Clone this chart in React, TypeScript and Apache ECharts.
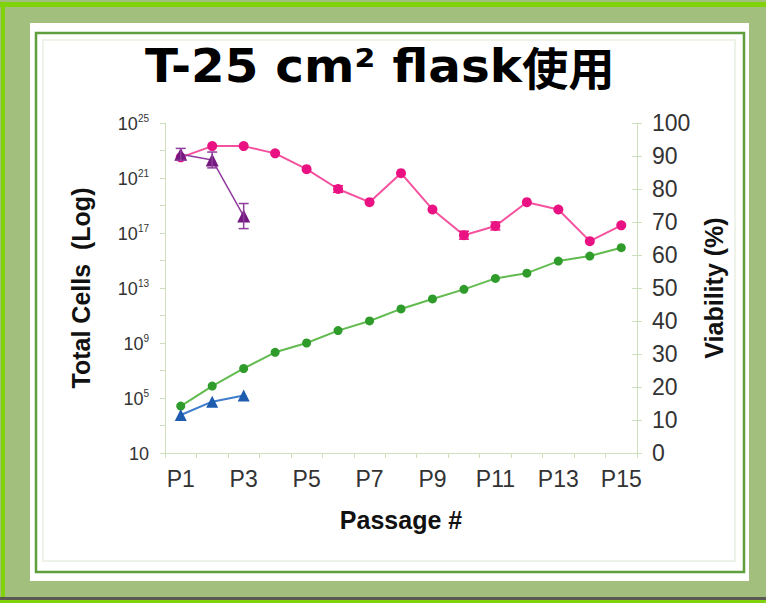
import React, { useEffect, useRef } from "react";
import * as echarts from "echarts";

// ---- data ----
const passages = ["P1","P2","P3","P4","P5","P6","P7","P8","P9","P10","P11","P12","P13","P14","P15"];
// total cells (log scale), green series
const totalCellsGreen = [2.6e4, 7.4e5, 1.4e7, 2.1e8, 1.0e9, 8.0e9, 4.0e10, 3.0e11, 1.6e12, 8.0e12, 5.0e13, 1.2e14, 9.1e14, 2.1e15, 8.5e15];
// total cells (log scale), blue series
const totalCellsBlue = [5.8e3, 5.4e4, 1.5e5];
// viability (%), pink series
const viabilityPink = [89.6, 93.0, 93.0, 90.8, 86.0, 80.0, 76.0, 84.8, 73.8, 66.0, 68.8, 76.0, 73.8, 64.2, 69.0];
const viabilityPinkErr = [0, 0, 0, 0, 0, 1.0, 0, 0, 0, 1.2, 1.2, 0, 0, 0, 0];
// viability (%), purple series
const viabilityPurple = [90.5, 88.8, 71.8];
const viabilityPurpleErr = [1.8, 2.4, 3.8];
// left axis tick label exponents (10^n)
const leftLabelExponents = [1, 5, 9, 13, 17, 21, 25];
const rightTickLabels = [0, 10, 20, 30, 40, 50, 60, 70, 80, 90, 100];

const titleLatin = "T-25 cm² flask";
const titleCJK = "使用";

const NARROW = '"Liberation Sans Narrow", "Liberation Sans", Arial, sans-serif';
const SANS = '"Liberation Sans", Arial, sans-serif';
const AXIS_COLOR = "#cddfbd";

// axis value for the log axis: exponent relative to 10^1
const toLogAxis = (v: number) => Math.log10(v) - 1;

function errorBarSeries(values: number[], errs: number[], color: string, yAxisIndex: number, z: number) {
  const data: number[][] = [];
  values.forEach((v, i) => {
    if (errs[i] > 0) data.push([i, v - errs[i], v + errs[i]]);
  });
  return {
    type: "custom",
    xAxisIndex: 0,
    yAxisIndex,
    silent: true,
    z,
    encode: { x: 0, y: [1, 2] },
    data,
    renderItem: (_params: any, api: any) => {
      const lo = api.coord([api.value(0), api.value(1)]);
      const hi = api.coord([api.value(0), api.value(2)]);
      const hw = 5;
      const st = { stroke: color, lineWidth: 1.5 };
      return {
        type: "group",
        children: [
          { type: "line", shape: { x1: lo[0], y1: lo[1], x2: hi[0], y2: hi[1] }, style: st },
          { type: "line", shape: { x1: lo[0] - hw, y1: lo[1], x2: lo[0] + hw, y2: lo[1] }, style: st },
          { type: "line", shape: { x1: hi[0] - hw, y1: hi[1], x2: hi[0] + hw, y2: hi[1] }, style: st },
        ],
      };
    },
  };
}

export default function App() {
  const ref = useRef<HTMLDivElement>(null);
  useEffect(() => {
    document.body.style.margin = "0";
    const chart = echarts.init(ref.current!, undefined, { renderer: "svg" });
    const option: any = {
      animation: false,
      backgroundColor: "#a2bf7d",
      graphic: [
        // outer bright green edges
        { type: "rect", z: -10, shape: { x: 0, y: 2, width: 766, height: 5 }, style: { fill: "#80d20a" } },
        { type: "rect", z: -10, shape: { x: 1, y: 2, width: 4, height: 601 }, style: { fill: "#80d20a" } },
        { type: "rect", z: -10, shape: { x: 0, y: 597, width: 766, height: 3 }, style: { fill: "#5a5a52" } },
        { type: "rect", z: -10, shape: { x: 0, y: 600, width: 766, height: 3 }, style: { fill: "#80d20a" } },
        // white panel
        { type: "rect", z: -9, shape: { x: 30, y: 23, width: 719, height: 558 }, style: { fill: "#ffffff" } },
        { type: "rect", z: -8, shape: { x: 36, y: 33, width: 708, height: 539 }, style: { fill: "none", stroke: "#5f9e3d", lineWidth: 2.5 } },
        { type: "rect", z: -8, shape: { x: 43, y: 40, width: 692, height: 521 }, style: { fill: "none", stroke: "#eef3ea", lineWidth: 2 } },
        // title
        {
          type: "text",
          z: 10,
          x: 145,
          y: 66,
          scaleX: 1.03,
          style: {
            text: `{a|${titleLatin}}{b|${titleCJK}}`,
            fill: "#000",
            align: "left",
            verticalAlign: "middle",
            rich: {
              a: { fontFamily: '"DejaVu Sans", sans-serif', fontWeight: "bold", fontSize: 47, fill: "#000", verticalAlign: "middle" },
              b: { fontFamily: '"Noto Sans CJK JP", sans-serif', fontWeight: "bold", fontSize: 45, fill: "#000", verticalAlign: "middle" },
            },
          },
        },
      ],
      grid: { left: 165, right: 129, top: 123, bottom: 150, containLabel: false },
      xAxis: {
        type: "category",
        data: passages,
        boundaryGap: true,
        name: "Passage #",
        nameLocation: "middle",
        nameGap: 54,
        nameTextStyle: { fontFamily: NARROW, fontWeight: "bold", fontSize: 25, color: "#111" },
        axisLine: { lineStyle: { color: AXIS_COLOR, width: 1 } },
        axisTick: { show: true, interval: 0, length: 5, lineStyle: { color: AXIS_COLOR } },
        axisLabel: { interval: 1, margin: 14, fontFamily: NARROW, fontSize: 23, color: "#333" },
        splitLine: { show: false },
      },
      yAxis: [
        {
          type: "value",
          position: "left",
          min: 0,
          max: 24,
          interval: 2,
          name: "Total Cells  (Log)",
          nameLocation: "middle",
          nameRotate: 90,
          nameGap: 72,
          nameTextStyle: { fontFamily: SANS, fontWeight: "bold", fontSize: 25, color: "#111" },
          axisLine: { show: true, lineStyle: { color: AXIS_COLOR, width: 1 } },
          axisTick: { show: true, length: 5, lineStyle: { color: AXIS_COLOR } },
          splitLine: { show: false },
          axisLabel: {
            margin: 16,
            formatter: (v: number) => {
              const e = Math.round(v) + 1;
              if (!leftLabelExponents.includes(e)) return "";
              return e === 1 ? "{b|10}" : `{b|10}{s|${e}}`;
            },
            rich: {
              b: { fontFamily: NARROW, fontSize: 18, color: "#333", verticalAlign: "bottom", lineHeight: 20 },
              s: { fontFamily: NARROW, fontSize: 10, color: "#333", verticalAlign: "top", lineHeight: 12 },
            },
          },
        },
        {
          type: "value",
          position: "right",
          min: 0,
          max: 100,
          interval: 10,
          name: "Viability (%)",
          nameLocation: "middle",
          nameRotate: 90,
          nameGap: 55,
          nameTextStyle: { fontFamily: SANS, fontWeight: "bold", fontSize: 25, color: "#111" },
          axisLine: { show: true, lineStyle: { color: AXIS_COLOR, width: 1 } },
          axisTick: { show: true, length: 5, lineStyle: { color: AXIS_COLOR } },
          splitLine: { show: false },
          axisLabel: {
            margin: 15,
            fontFamily: NARROW,
            fontSize: 23,
            color: "#333",
            formatter: (v: number) => (rightTickLabels.includes(Math.round(v)) ? String(Math.round(v)) : ""),
          },
        },
        {
          type: "value",
          position: "right",
          min: 0,
          max: 100,
          interval: 10,
          axisLine: { show: false },
          axisTick: { show: true, inside: true, length: 5, lineStyle: { color: AXIS_COLOR } },
          axisLabel: { show: false },
          splitLine: { show: false },
        },
      ],
      series: [
        {
          name: "Viability",
          type: "line",
          yAxisIndex: 1,
          data: viabilityPink,
          symbol: "circle",
          symbolSize: 10,
          z: 3,
          lineStyle: { color: "#f4529e", width: 2 },
          itemStyle: { color: "#ea1282" },
        },
        errorBarSeries(viabilityPink, viabilityPinkErr, "#ea1282", 1, 4),
        {
          name: "Total Cells",
          type: "line",
          yAxisIndex: 0,
          data: totalCellsGreen.map(toLogAxis),
          symbol: "circle",
          symbolSize: 9,
          z: 3,
          lineStyle: { color: "#62bb4f", width: 2 },
          itemStyle: { color: "#2f9b2b" },
        },
        {
          name: "Total Cells B",
          type: "line",
          yAxisIndex: 0,
          data: totalCellsBlue.map(toLogAxis),
          symbol: "triangle",
          symbolSize: 12,
          z: 4,
          lineStyle: { color: "#3f7ccc", width: 2 },
          itemStyle: { color: "#1e5cb0" },
        },
        {
          name: "Viability B",
          type: "line",
          yAxisIndex: 1,
          data: viabilityPurple,
          symbol: "triangle",
          symbolSize: 13,
          z: 5,
          lineStyle: { color: "#8f3c9c", width: 1.5 },
          itemStyle: { color: "#74197f" },
        },
        errorBarSeries(viabilityPurple, viabilityPurpleErr, "#8f3c9c", 1, 6),
      ],
    };
    chart.setOption(option);
    return () => chart.dispose();
  }, []);
  return <div ref={ref} style={{ position: "fixed", left: 0, top: 0, width: 766, height: 603 }} />;
}
